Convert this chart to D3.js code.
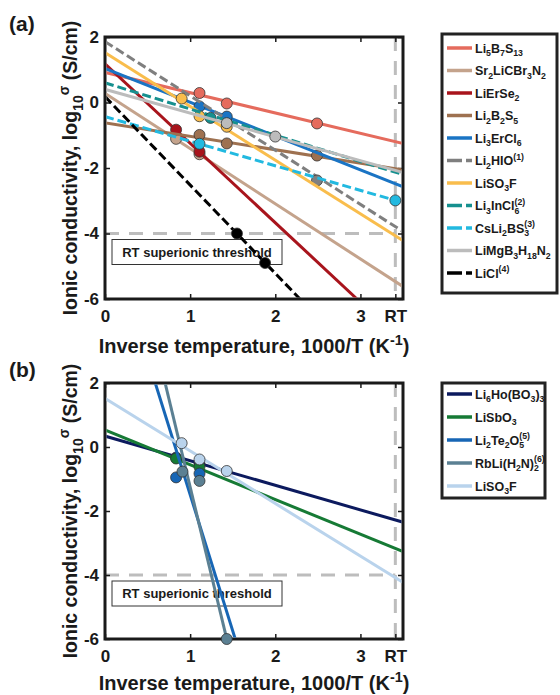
<!DOCTYPE html>
<html>
<head>
<meta charset="utf-8">
<script src="https://cdn.jsdelivr.net/npm/d3@7"></script>
<style>
body { margin: 0; background: #fff; }
text { font-family: "Liberation Sans", Arial, sans-serif; font-weight: bold; fill: #1a1a1a; white-space: pre; }
</style>
</head>
<body>
<svg id="fig" width="560" height="695"></svg>
<script>
// x = 1000/T (K^-1), y = log10 sigma (S/cm)
let RT = 3.41;
let xTicks = [0, 1, 2, 3, RT];
let xTickLabels = ["0", "1", "2", "3", "RT"];
let yTicks = [-6, -4, -2, 0, 2];

// panel (a)
let namesA = ["Li_5B_7S_{13}", "Sr_2LiCBr_3N_2", "LiErSe_2", "Li_2B_2S_5", "Li_3ErCl_6", "Li_2HIO^{(1)}",
    "LiSO_3F", "Li_3InCl_6^{(2)}", "CsLi_2BS_3^{(3)}", "LiMgB_3H_{18}N_2", "LiCl^{(4)}"];
let colorsA = ["#e56b5d", "#c4a38c", "#a8141c", "#9e7150", "#1a74c4", "#7f7f7f",
    "#f9bd4c", "#16908f", "#22b9e0", "#bcbcbc", "#000000"];
let dashedA = [false, false, false, false, false, true, false, true, true, false, true];
// fitted lines, [x0, y0, x1, y1]
let fitsA = [
    [0, 0.92, 3.5, -1.25],
    [0, 0.28, 3.5, -5.62],
    [0, 1.18, 2.96, -6],
    [0, -0.62, 3.5, -2.06],
    [0, 1.04, 3.5, -2.57],
    [0, 1.86, 3.5, -3.94],
    [0, 1.52, 3.5, -4.22],
    [0, 0.60, 3.5, -2.20],
    [0, -0.43, 3.41, -2.99],
    [0, 0.40, 3.5, -2.14],
    [0, 0.18, 2.29, -6]
];
let pointsA = [
    [[1.11, 0.29], [1.43, -0.03], [2.49, -0.64]],
    [[0.835, -1.11], [1.11, -1.58]],
    [[0.835, -0.83], [1.11, -1.50]],
    [[1.11, -0.99], [1.43, -1.25], [2.49, -1.62]],
    [[1.11, -0.12], [1.43, -0.43]],
    [[2.49, -2.38]],
    [[0.90, 0.12], [1.11, -0.42], [1.43, -0.74]],
    [[1.24, -0.47]],
    [[1.11, -1.26], [3.41, -2.99]],
    [[1.43, -0.63], [2.0, -1.04]],
    [[1.55, -4.0], [1.88, -4.9]]
];

// panel (b)
let namesB = ["Li_6Ho(BO_3)_3", "LiSbO_3", "Li_2Te_2O_5^{(5)}", "RbLi(H_2N)_2^{(6)}", "LiSO_3F"];
let colorsB = ["#0c1a5e", "#167a35", "#1766b5", "#5b8093", "#b9d3ec"];
let dashedB = [false, false, false, false, false];
let fitsB = [
    [0, 0.34, 3.5, -2.35],
    [0, 0.53, 3.5, -3.27],
    [0.59, 2, 1.53, -6],
    [0.706, 2, 1.43, -6],
    [0, 1.52, 3.5, -4.23]
];
let pointsB = [
    [[0.835, -0.33], [1.11, -0.52]],
    [[0.835, -0.36], [1.11, -0.62]],
    [[0.835, -0.95], [1.11, -0.83]],
    [[0.91, -0.77], [1.11, -1.06], [1.43, -6]],
    [[0.90, 0.12], [1.11, -0.39], [1.43, -0.75]]
];

let svg = d3.select("#fig");
let defs = svg.append("defs");
let ink = "#1a1a1a";

// split "Li_2B_2S_5^{(1)}" into normal / sub / sup pieces
let parseTex = (s) => {
    let out = [], buf = "", i = 0;
    while (i < s.length) {
        let c = s[i];
        if (c === "_" || c === "^") {
            if (buf) { out.push({t: buf, k: "n"}); buf = ""; }
            let val;
            if (s[i + 1] === "{") { let j = s.indexOf("}", i); val = s.slice(i + 2, j); i = j + 1; }
            else { val = s[i + 1]; i += 2; }
            out.push({t: val, k: c === "_" ? "sub" : "sup"});
        } else { buf += c; i++; }
    }
    if (buf) out.push({t: buf, k: "n"});
    return out;
};

// draws pieces one by one, a sup right after a sub is stacked over it
let drawTex = (g, s, x, y, size, scale) => {
    scale = scale || 0.72;
    let cx = x, subStart = null;
    let parts = parseTex(s);
    parts.forEach((p, idx) => {
        let fs = p.k === "n" ? size : size * scale;
        let dy = p.k === "sub" ? size * 0.3 : p.k === "sup" ? -size * 0.42 : 0;
        let px = cx;
        let stacked = p.k === "sup" && idx > 0 && parts[idx - 1].k === "sub" && !p.t.startsWith("σ");
        if (stacked) px = subStart;
        let t = g.append("text").attr("x", px).attr("y", y + dy).attr("font-size", fs).text(p.t);
        let w = t.node().getComputedTextLength();
        if (p.k === "sub") subStart = px;
        cx = stacked ? Math.max(cx, px + w) : px + w;
    });
    return cx - x;
};

let drawPanel = (opt) => {
    let x = d3.scaleLinear().domain([0, 3.5]).range([105, 403]);
    let y = d3.scaleLinear().domain([-6, 2]).range([opt.bottom, opt.top]);
    let g = svg.append("g");

    defs.append("clipPath").attr("id", "clip" + opt.id)
        .append("rect")
        .attr("x", x(0) + 1.5).attr("y", y(2) + 1.5)
        .attr("width", x(3.5) - x(0) - 3).attr("height", y(-6) - y(2) - 3);

    // RT superionic threshold guides
    g.append("line")
        .attr("x1", x(0)).attr("x2", x(RT)).attr("y1", y(-4)).attr("y2", y(-4))
        .attr("stroke", "#bdbdbd").attr("stroke-width", 3).attr("stroke-dasharray", "14,10");
    g.append("line")
        .attr("x1", x(RT)).attr("x2", x(RT)).attr("y1", y(2)).attr("y2", y(-6))
        .attr("stroke", "#bdbdbd").attr("stroke-width", 3).attr("stroke-dasharray", "14,10");
    g.append("rect")
        .attr("x", x(0) + 7).attr("y", y(-4) + 6).attr("width", 170).attr("height", 25)
        .attr("fill", "#fff").attr("stroke", "#333").attr("stroke-width", 1);
    g.append("text")
        .attr("x", x(0) + 92).attr("y", y(-4) + 23).attr("text-anchor", "middle")
        .attr("font-size", 13).text("RT superionic threshold");

    // axes: labels on bottom/left, mirrored ticks on top/right
    let styleAxis = (a) => {
        a.select(".domain").remove();
        a.selectAll(".tick line").attr("stroke", ink).attr("stroke-width", 1.5);
        a.selectAll(".tick text").attr("font-size", 17).attr("font-family", null).attr("fill", ink)
            .text(function () { return this.textContent.replace("\u2212", "-"); });
    };
    let noText = (a) => a.selectAll(".tick text").remove();
    g.append("g").attr("transform", "translate(0," + y(-6) + ")")
        .call(d3.axisBottom(x).tickValues(xTicks).tickFormat((d, i) => xTickLabels[i]).tickSize(-5).tickPadding(11))
        .call(styleAxis);
    g.append("g").attr("transform", "translate(0," + y(2) + ")")
        .call(d3.axisTop(x).tickValues(xTicks).tickSize(-5))
        .call(styleAxis).call(noText);
    g.append("g").attr("transform", "translate(" + x(0) + ",0)")
        .call(d3.axisLeft(y).tickValues(yTicks).tickFormat(d3.format("d")).tickSize(-5).tickPadding(6))
        .call(styleAxis);
    g.append("g").attr("transform", "translate(" + x(3.5) + ",0)")
        .call(d3.axisRight(y).tickValues(yTicks).tickSize(-5))
        .call(styleAxis).call(noText);

    g.append("rect")
        .attr("x", x(0)).attr("y", y(2)).attr("width", x(3.5) - x(0)).attr("height", y(-6) - y(2))
        .attr("fill", "none").attr("stroke", ink).attr("stroke-width", 3);

    // series: fit line then its points, in legend order
    opt.names.forEach((n, i) => {
        let f = opt.fits[i];
        g.append("line")
            .attr("clip-path", "url(#clip" + opt.id + ")")
            .attr("x1", x(f[0])).attr("y1", y(f[1])).attr("x2", x(f[2])).attr("y2", y(f[3]))
            .attr("stroke", opt.colors[i]).attr("stroke-width", 3)
            .attr("stroke-dasharray", opt.dashed[i] ? "9,4" : null);
        g.selectAll(null).data(opt.points[i]).join("circle")
            .attr("cx", d => x(d[0])).attr("cy", d => y(d[1])).attr("r", 5.5)
            .attr("fill", opt.colors[i]).attr("stroke", "#333").attr("stroke-width", 0.8);
    });

    // axis titles
    let xl = g.append("g");
    let wx = drawTex(xl, "Inverse temperature, 1000/T (K^{-1})", 0, 0, 20);
    xl.attr("transform", "translate(" + ((x(0) + x(3.5)) / 2 - wx / 2) + "," + (y(-6) + opt.xlabOff) + ")");
    let yl = g.append("g");
    let wy = drawTex(yl, "Ionic conductivity, log_{10}^{σ} (S/cm)", 0, 0, 19.5);
    yl.attr("transform", "translate(77," + ((y(2) + y(-6)) / 2 + wy / 2) + ") rotate(-90)");

    g.append("text").attr("x", 9).attr("y", opt.top - 6).attr("font-size", 21).text(opt.label);

    // legend
    let lg = g.append("g");
    lg.append("rect")
        .attr("x", opt.legend.x).attr("y", opt.legend.y).attr("width", opt.legend.w).attr("height", opt.legend.h)
        .attr("fill", "#fff").attr("stroke", "#222").attr("stroke-width", 3);
    opt.names.forEach((n, i) => {
        let ly = opt.legend.y0 + i * opt.legend.step;
        lg.append("line")
            .attr("x1", opt.legend.x + 5).attr("x2", opt.legend.x + 30).attr("y1", ly).attr("y2", ly)
            .attr("stroke", opt.colors[i]).attr("stroke-width", 3.5)
            .attr("stroke-dasharray", opt.dashed[i] ? "15,4" : null);
        drawTex(lg, n, opt.legend.x + 33, ly + 4.5, 12.5, 0.7);
    });
};

drawPanel({
    id: "a", label: "(a)", top: 37, bottom: 299, xlabOff: 54,
    names: namesA, colors: colorsA, dashed: dashedA, fits: fitsA, points: pointsA,
    legend: {x: 442, y: 34, w: 115, h: 259, y0: 48, step: 22.5}
});
drawPanel({
    id: "b", label: "(b)", top: 383, bottom: 639, xlabOff: 51,
    names: namesB, colors: colorsB, dashed: dashedB, fits: fitsB, points: pointsB,
    legend: {x: 442, y: 383, w: 103, h: 115, y0: 394, step: 23}
});
</script>
</body>
</html>
